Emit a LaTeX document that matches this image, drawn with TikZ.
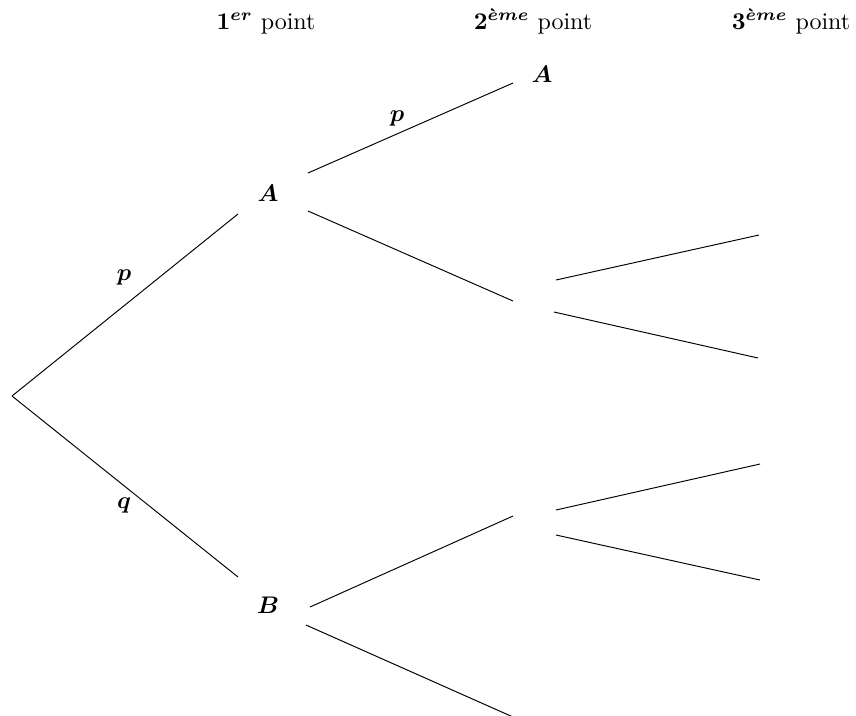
\documentclass[tikz,border=0pt]{standalone}
\usepackage{amsmath,amssymb}
\begin{document}
\begin{tikzpicture}[x=0.41667pt,y=-0.41667pt,
  tnode/.style={inner sep=0pt},
  head/.style={anchor=base,inner sep=0pt},
  lbl/.style={inner sep=0pt},
  br/.style={line width=0.4pt}]
\clip (0,0) rectangle (856,715);
% headers
\node[head] (h1) at (266,29) {$\boldsymbol{1^{er}}$ point};
\node[head] (h2) at (533,29) {$\boldsymbol{2^{\grave{e}me}}$ point};
\node[head] (h3) at (791,29) {$\boldsymbol{3^{\grave{e}me}}$ point};
% tree nodes
\coordinate (R) at (12,396);
\node[tnode] (A1) at (268,193) {$\boldsymbol{A}$};
\node[tnode] (B1) at (268,605) {$\boldsymbol{B}$};
\node[tnode] (A2) at (542,74) {$\boldsymbol{A}$};
% connection points of the branches
\coordinate (A1in)  at (238,214);
\coordinate (B1in)  at (238,577);
\coordinate (A1up)  at (308,173);
\coordinate (A1dn)  at (308,211);
\coordinate (B1up)  at (310,607);
\coordinate (B1dn)  at (306,625);
\coordinate (A2in)  at (513,83);
\coordinate (E2ain) at (513,301);
\coordinate (E2bin) at (513,516);
\coordinate (E2cin) at (513,717);
\coordinate (E2aup) at (556,280);
\coordinate (E2adn) at (554,312);
\coordinate (E2bup) at (556,510);
\coordinate (E2bdn) at (556,535);
\coordinate (L3a) at (759,235);
\coordinate (L3b) at (758,358);
\coordinate (L3c) at (760,464);
\coordinate (L3d) at (760,580);
% edges
\draw[br] (R) -- (A1in);
\draw[br] (R) -- (B1in);
\draw[br] (A1up) -- (A2in);
\draw[br] (A1dn) -- (E2ain);
\draw[br] (B1up) -- (E2bin);
\draw[br] (B1dn) -- (E2cin);
\draw[br] (E2aup) -- (L3a);
\draw[br] (E2adn) -- (L3b);
\draw[br] (E2bup) -- (L3c);
\draw[br] (E2bdn) -- (L3d);
% labels
\node[lbl] (lp1) at (124,277) {$\boldsymbol{p}$};
\node[lbl] (lq1) at (124,505) {$\boldsymbol{q}$};
\node[lbl] (lp2) at (397,118) {$\boldsymbol{p}$};
\end{tikzpicture}
\end{document}
